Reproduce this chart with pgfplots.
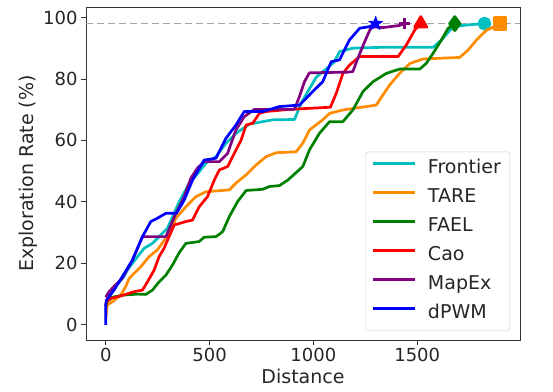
\documentclass[border=0pt]{standalone}
\usepackage{fontspec}
\setmainfont{DejaVu Sans}
\usepackage{pgfplots}
\pgfplotsset{compat=1.18}
\definecolor{cFront}{RGB}{0,191,191}
\definecolor{cTare}{RGB}{255,140,0}
\definecolor{cFael}{RGB}{0,128,0}
\definecolor{cCao}{RGB}{255,0,0}
\definecolor{cMapex}{RGB}{128,0,128}
\definecolor{cDpwm}{RGB}{0,0,255}
\pgfdeclareplotmark{fstar}{%
  \pgfpathmoveto{\pgfpointpolar{90}{\pgfplotmarksize}}%
  \pgfpathlineto{\pgfpointpolar{126}{0.4\pgfplotmarksize}}%
  \pgfpathlineto{\pgfpointpolar{162}{\pgfplotmarksize}}%
  \pgfpathlineto{\pgfpointpolar{198}{0.4\pgfplotmarksize}}%
  \pgfpathlineto{\pgfpointpolar{234}{\pgfplotmarksize}}%
  \pgfpathlineto{\pgfpointpolar{270}{0.4\pgfplotmarksize}}%
  \pgfpathlineto{\pgfpointpolar{306}{\pgfplotmarksize}}%
  \pgfpathlineto{\pgfpointpolar{342}{0.4\pgfplotmarksize}}%
  \pgfpathlineto{\pgfpointpolar{18}{\pgfplotmarksize}}%
  \pgfpathlineto{\pgfpointpolar{54}{0.4\pgfplotmarksize}}%
  \pgfpathclose
  \pgfusepathqfillstroke
}
\begin{document}
\begin{tikzpicture}
\useasboundingbox (-86pt,-51pt) rectangle (467pt,340pt);
\begin{axis}[
  at={(0pt,0pt)}, anchor=south west,
  scale only axis, width=434pt, height=333pt,
  xmin=-95, xmax=1995, ymin=-4.93, ymax=103.4,
  xtick={0,500,1000,1500,2000}, ytick={0,20,40,60,80,100},
  tick align=outside, tick pos=left,
  major tick length=5pt,
  /pgf/number format/1000 sep={},
  /pgf/number format/assume math mode=true,
  tick label style={font=\fontsize{18}{20}\selectfont, text=black!85},
  xlabel={Distance}, ylabel={Exploration Rate (\%)},
  label style={font=\fontsize{19}{22}\selectfont, text=black!85},
  xlabel style={at={(axis description cs:0.5,-0.108)}, anchor=center},
  ylabel style={at={(axis description cs:-0.134,0.5)}, anchor=center},
  axis line style={black!80, line width=0.8pt},
  every tick/.style={black!80, line width=0.8pt},
  clip mode=individual,
  legend cell align=left,
  legend image code/.code={\draw[#1, line width=2.7pt] (0pt,5pt) -- (42pt,5pt);},
  legend style={at={(0.977,0.027)}, anchor=south east,
    draw=black!20, rounded corners=3pt, fill=white,
    font=\fontsize{19}{22}\selectfont, text=black!85,
    inner xsep=6pt, inner ysep=5pt, row sep=5pt,
    nodes={inner sep=3pt, text height=14pt, text depth=4pt},
    /tikz/every odd column/.append style={column sep=9pt}},
  every axis plot/.append style={line width=2.7pt, line join=round},
]
\addplot[color=black!35, line width=1.6pt, dash pattern=on 7pt off 4pt, forget plot] coordinates {(-95,98) (1995,98)};

% Frontier
\addplot[color=cFront] coordinates {
(0,4) (5,8) (40,12) (88,15.7) (104,17.8) (153,22.2) (185,24.9) (225,26.5) (265,29.2) (297,31.4) (322,35.2) (354,40.1) (402,46) (450,49.8) (483,52.6) (531,54.7) (579,59.1) (627,62.3) (692,65.3) (756,66.1) (804,66.7) (909,66.8) (941,72.1) (973,75.9) (1013,80.5) (1062,83.3) (1100,85.5) (1126,88.9) (1190,90) (1335,90.3) (1577,90.3) (1617,92.7) (1673,97) (1745,97.6) (1824,98)};
\addlegendentry{Frontier}
\addplot[only marks, mark=*, mark size=5.5pt, color=cFront, forget plot] coordinates {(1824,98)};

% TARE
\addplot[color=cTare] coordinates {
(0,2) (8,6.5) (32,7.5) (72,9.7) (96,12.4) (113,15.1) (137,16.8) (169,18.9) (209,22.2) (249,24.4) (285,27.8) (314,30.8) (338,34.7) (386,38.4) (434,41.7) (483,43.3) (595,43.9) (627,46.1) (676,48.8) (724,52) (772,54.7) (821,56) (917,56.3) (949,59.1) (981,63.4) (1045,66.7) (1078,68.8) (1142,69.9) (1303,71.5) (1335,74.8) (1367,78) (1415,81.8) (1464,85) (1528,86.5) (1705,87) (1745,89.4) (1786,92.7) (1834,95.9) (1874,97) (1899,98)};
\addlegendentry{TARE}
\addplot[only marks, mark=square*, mark size=6pt, color=cTare, forget plot] coordinates {(1899,98)};

% FAEL
\addplot[color=cFael] coordinates {
(0,6) (5,7.5) (32,9) (88,9.7) (153,10) (193,9.9) (225,11.3) (257,14) (290,16.2) (322,19.5) (354,23.5) (386,26.5) (450,27.1) (474,28.5) (531,28.7) (563,30.3) (595,35.2) (635,40.1) (676,43.7) (756,44.1) (788,45) (836,45.3) (877,47.1) (949,51.5) (981,56.9) (1029,62.3) (1078,66.1) (1142,66.1) (1190,69.9) (1239,75.9) (1287,79.1) (1351,81.8) (1415,83.2) (1512,83.2) (1544,85.1) (1577,88.4) (1617,92.7) (1649,96.5) (1681,98)};
\addlegendentry{FAEL}
\addplot[only marks, mark=diamond*, mark size=7pt, color=cFael, forget plot] coordinates {(1681,98)};

% Cao
\addplot[color=cCao] coordinates {
(0,6) (3,7.5) (24,8.6) (72,9.4) (137,10.8) (177,11.3) (201,14) (233,17.8) (257,22.2) (281,24.9) (305,28.7) (330,32.5) (386,33.6) (418,34.1) (450,38.4) (490,41.7) (523,47.1) (547,50.4) (587,51.5) (619,55.8) (652,60.1) (676,65) (708,65.6) (740,68.8) (772,69.4) (885,70.1) (1082,70.8) (1110,75.3) (1142,81.8) (1174,84.5) (1223,87.3) (1408,87.3) (1448,91.1) (1488,95.9) (1517,98)};
\addlegendentry{Cao}
\addplot[only marks, mark=triangle*, mark size=7pt, color=cCao, forget plot] coordinates {(1517,98)};

% MapEx
\addplot[color=cMapex] coordinates {
(0,9) (16,10.8) (48,13) (80,15.2) (128,21) (177,28.7) (290,28.7) (338,36.3) (378,41.7) (410,47.7) (442,51) (474,53.1) (547,53.1) (587,55.8) (627,63.4) (667,67.7) (716,70.1) (909,70.1) (933,74.3) (957,79.1) (981,82) (1166,82.2) (1190,82.4) (1214,86.7) (1247,92.1) (1279,97) (1335,96.7) (1415,97.4) (1440,98)};
\addlegendentry{MapEx}
\addplot[only marks, mark=+, mark size=5.5pt, line width=3.2pt, color=cMapex, forget plot] coordinates {(1440,98)};

% dPWM
\addplot[color=cDpwm] coordinates {
(0,0) (0,6.5) (3,8) (40,11.3) (80,15.7) (128,21) (177,28.7) (217,33.6) (249,34.7) (290,36.3) (341,36.3) (378,40.6) (418,47.1) (474,53.6) (531,54.2) (579,60.7) (627,65) (667,69.4) (756,69.4) (836,71) (933,71.5) (965,73.7) (997,75.9) (1045,79.1) (1086,85.6) (1126,86.2) (1174,92.7) (1223,96.5) (1270,97) (1300,98)};
\addlegendentry{dPWM}
\addplot[only marks, mark=fstar, mark size=7.5pt, line width=0.5pt, color=cDpwm, forget plot] coordinates {(1300,98)};
\end{axis}
\end{tikzpicture}
\end{document}
